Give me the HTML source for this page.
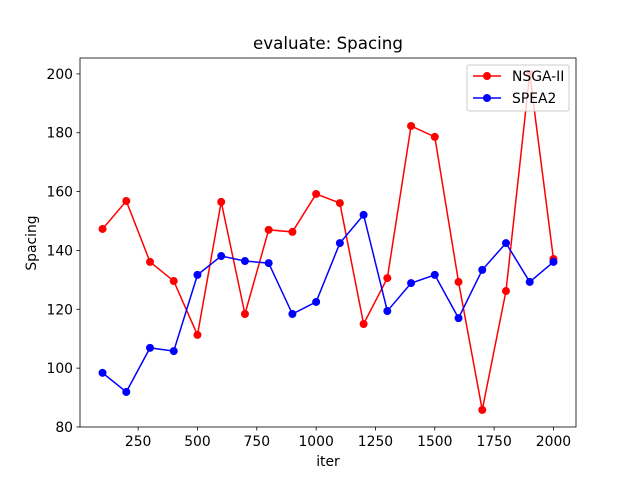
<!DOCTYPE html>
<html><head><meta charset="utf-8"><style>
body{margin:0;background:#fff;}
svg{display:block;font-family:"DejaVu Sans","Liberation Sans",sans-serif;}
</style></head><body>
<svg id="chart" width="640" height="480">
<rect width="640" height="480" fill="#fff"/>
<text x="328" y="49" font-size="16.7" text-anchor="middle">evaluate: Spacing</text>
<g id="ticks"></g>
<g id="series"></g>
<rect x="80" y="58" width="496" height="369" fill="none" stroke="#000" stroke-width="0.8"/>
<text x="328" y="466" font-size="13.9" text-anchor="middle">iter</text>
<text x="36" y="243" font-size="13.9" text-anchor="middle" transform="rotate(-90 36 243)">Spacing</text>
<g>
<rect x="467" y="65" width="102" height="46" rx="2" fill="#fff" fill-opacity="0.8" stroke="#ccc"/>
<g>
<line x1="473" y1="76" x2="501" y2="76" stroke="red" stroke-width="1.5"/><circle cx="487" cy="76" r="4" fill="red"/>
<text x="512" y="81" font-size="13.9">NSGA-II</text></g>
<g>
<line x1="473" y1="98" x2="501" y2="98" stroke="blue" stroke-width="1.5"/><circle cx="487" cy="98" r="4" fill="blue"/>
<text x="512" y="103" font-size="13.9">SPEA2</text></g>
</g>
</svg>
<script>
const iters=[100,200,300,400,500,600,700,800,900,1000,1100,1200,1300,1400,1500,1600,1700,1800,1900,2000];
const nsga2=[147.3,156.8,136.1,129.6,111.3,156.5,118.4,147.0,146.3,159.2,156.1,115.0,130.6,182.3,178.6,129.3,85.8,126.2,200.0,137.1];
const spea2=[98.4,91.9,106.9,105.8,131.7,138.1,136.4,135.7,118.4,122.5,142.5,152.1,119.4,128.9,131.7,117.0,133.4,142.5,129.3,136.1];
const xTicks=[250,500,750,1000,1250,1500,1750,2000];
const yTicks=[80,100,120,140,160,180,200];
const NS="http://www.w3.org/2000/svg";
const X0=80,X1=576,Y0=427,Y1=58,xmin=5,xmax=2095,ymin=80,ymax=205.4;
const sx=v=>X0+(v-xmin)/(xmax-xmin)*(X1-X0);
const sy=v=>Y0-(v-ymin)/(ymax-ymin)*(Y0-Y1);
function mk(t,a,p){const e=document.createElementNS(NS,t);for(const k in a)e.setAttribute(k,a[k]);p.appendChild(e);return e;}
const tg=document.getElementById('ticks');
xTicks.forEach(v=>{const x=sx(v);
const l=mk('line',{x1:x,x2:x,y1:Y0,y2:Y0+3.5,stroke:'#000','stroke-width':0.8},tg);


const t=mk('text',{x:x,y:Y0+19,'font-size':13.9,'text-anchor':'middle'},tg);t.textContent=v;

});
yTicks.forEach(v=>{const y=sy(v);
const l=mk('line',{x1:X0-3.5,x2:X0,y1:y,y2:y,stroke:'#000','stroke-width':0.8},tg);


const t=mk('text',{x:X0-7,y:y+5,'font-size':13.9,'text-anchor':'end'},tg);t.textContent=v;

});
const sg=document.getElementById('series');
[[nsga2,'red','nsga2'],[spea2,'blue','spea2']].forEach(([d,c,n])=>{
const pl=mk('polyline',{points:d.map((v,i)=>sx(iters[i])+','+sy(v)).join(' '),fill:'none',stroke:c,'stroke-width':1.5},sg);


d.forEach((v,i)=>{const p=mk('circle',{cx:sx(iters[i]),cy:sy(v),r:4,fill:c},sg);

});
});
</script>
</body></html>
